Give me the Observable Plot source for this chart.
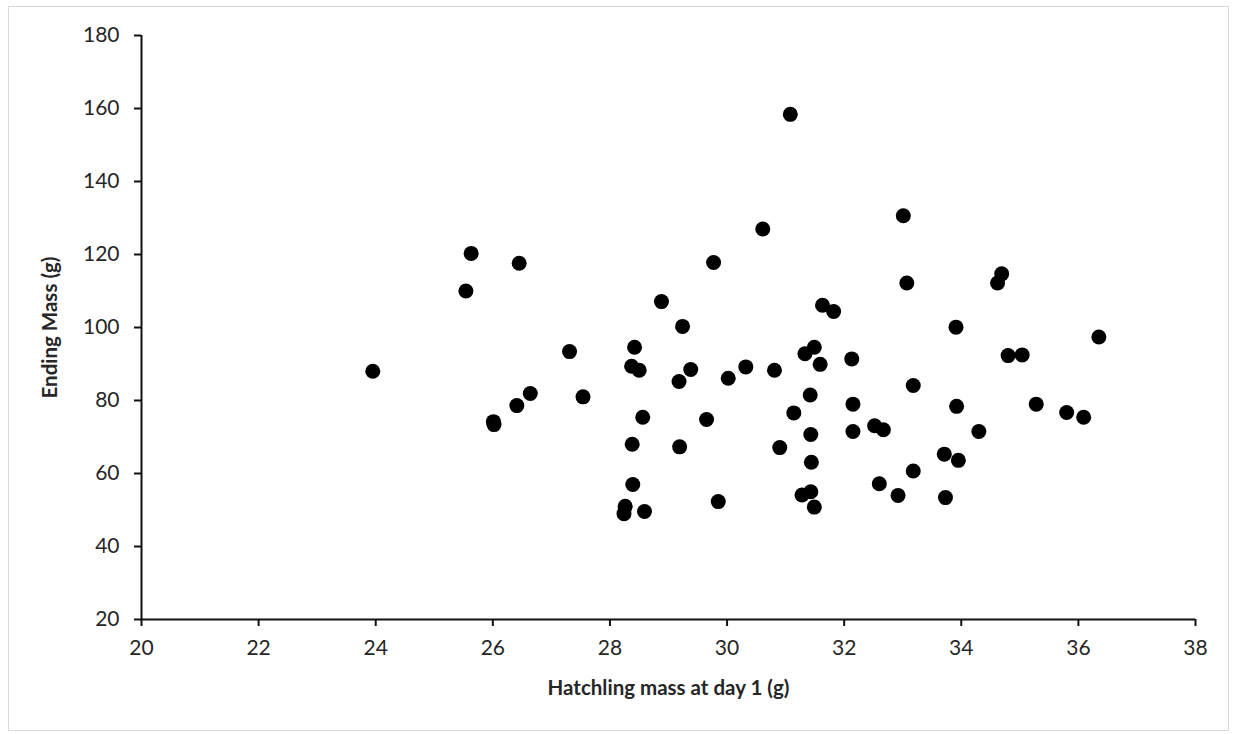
<!DOCTYPE html>
<html>
<head>
<meta charset="utf-8">
<script src="https://cdn.jsdelivr.net/npm/d3@7"></script>
<script src="https://cdn.jsdelivr.net/npm/@observablehq/plot@0.6"></script>
<style>
  html, body { margin: 0; padding: 0; background: #fff; }
  #wrap { position: relative; width: 1233px; height: 734px; }
  #frame { position: absolute; left: 8px; top: 6px; width: 1219px; height: 723px; border: 1px solid #d9d9d9; pointer-events: none; }
</style>
</head>
<body>
<div id="wrap"><div id="frame"></div></div>
<script>
const hatchlingMass = [23.95,25.54,25.63,26.45,26.01,26.02,26.41,26.64,27.31,27.54,28.42,28.37,28.50,28.56,28.38,28.39,28.26,28.24,28.59,28.88,29.24,29.18,29.38,29.19,29.65,29.77,29.85,30.02,30.32,30.61,30.81,30.90,31.08,31.14,31.33,31.49,31.59,31.63,31.82,31.42,31.43,31.44,31.28,31.43,31.49,32.13,32.15,32.15,32.52,32.67,32.60,32.92,33.01,33.07,33.18,33.18,33.91,33.92,33.71,33.95,33.73,34.30,34.62,34.69,34.80,35.04,35.28,35.80,36.09,36.35];
const endingMass = [88.0,110.0,120.3,117.6,74.2,73.4,78.6,81.9,93.4,81.0,94.6,89.4,88.3,75.4,68.0,57.0,51.0,49.0,49.6,107.1,100.3,85.2,88.5,67.3,74.8,117.8,52.3,86.1,89.2,127.0,88.3,67.1,158.4,76.6,92.8,94.6,89.9,106.1,104.4,81.5,70.7,63.1,54.1,55.0,50.8,91.4,79.0,71.5,73.1,72.0,57.2,54.0,130.6,112.2,84.1,60.7,100.1,78.4,65.3,63.6,53.4,71.5,112.2,114.7,92.3,92.5,79.0,76.7,75.4,97.4];
const xTicks = [20,22,24,26,28,30,32,34,36,38];
const yTicks = [20,40,60,80,100,120,140,160,180];
const xTitle = "Hatchling mass at day 1 (g)";
const yTitle = "Ending Mass (g)";

const data = hatchlingMass.map((x, i) => ({x, y: endingMass[i]}));

const chart = Plot.plot({
  width: 1233,
  height: 734,
  marginLeft: 141,
  marginRight: 38,
  marginTop: 35,
  marginBottom: 115,
  style: { fontFamily: "Lato, 'Open Sans', sans-serif", fontSize: "21px", color: "#262626", background: "transparent" },
  x: { domain: [20, 38] },
  y: { domain: [20, 180] },
  marks: [
    Plot.axisX({ ticks: xTicks, tickSize: 7, tickPadding: 14, strokeWidth: 2, stroke: "#111", fill: "#262626", label: null, tickFormat: d => String(d), fontSize: 21 }),
    Plot.axisY({ ticks: yTicks, tickSize: 7, tickPadding: 15, strokeWidth: 2, stroke: "#111", fill: "#262626", label: null, tickFormat: d => String(d), fontSize: 21 }),
    Plot.ruleX([20], { stroke: "#111", strokeWidth: 2 }),
    Plot.ruleY([20], { stroke: "#111", strokeWidth: 2 }),
    Plot.dot(data, { x: "x", y: "y", r: 7.5, fill: "#000", stroke: "none" }),
    Plot.text([yTitle], { frameAnchor: "left", dx: -91, rotate: -90, textAnchor: "middle", fontWeight: "bold", fontSize: 20.5, fill: "#262626" }),
    Plot.text([xTitle], { frameAnchor: "bottom", dy: 75, textAnchor: "middle", fontWeight: "bold", fontSize: 20.5, fill: "#262626" })
  ]
});
document.getElementById("wrap").prepend(chart);
</script>
</body>
</html>
